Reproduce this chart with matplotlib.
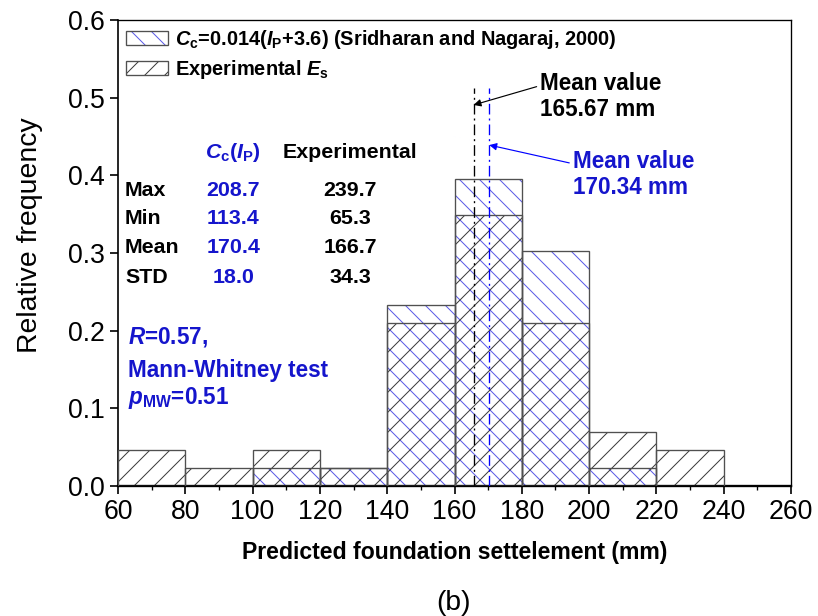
import matplotlib
matplotlib.use('Agg')
import matplotlib.pyplot as plt
import matplotlib.patches as mpatches
from matplotlib.ticker import MultipleLocator

# Data
bin_edges = [60, 80, 100, 120, 140, 160, 180, 200, 220, 240]
freq_cc = [0.0, 0.0, 0.0233, 0.0233, 0.2326, 0.3953, 0.3023, 0.0233, 0.0]
freq_exp = [0.0465, 0.0233, 0.0465, 0.0233, 0.2093, 0.3488, 0.2093, 0.0698, 0.0465]
mean_exp = 165.67
mean_cc = 170.34
mean_line_top = 0.512

stat_names = ["Max", "Min", "Mean", "STD"]
stat_cc = ["208.7", "113.4", "170.4", "18.0"]
stat_exp = ["239.7", "65.3", "166.7", "34.3"]

# Style
plt.rcParams['font.family'] = ['Liberation Sans', 'DejaVu Sans']
plt.rcParams['mathtext.fontset'] = 'custom'
plt.rcParams['mathtext.rm'] = 'Liberation Sans:bold'
plt.rcParams['mathtext.it'] = 'Liberation Sans:italic:bold'
plt.rcParams['mathtext.bf'] = 'Liberation Sans:bold'
plt.rcParams['hatch.linewidth'] = 0.6

blue_txt = '#1515cc'
blue_hatch = '#5a5ae6'
dark_hatch = '#3a3a3a'
edge = '#505050'

fig = plt.figure(figsize=(818 / 120, 616 / 120), dpi=120)
ax = fig.add_axes([118 / 818, 1 - 486 / 616, 673 / 818, 466 / 616])

lefts = bin_edges[:-1]
w = bin_edges[1] - bin_edges[0]

# hatches
ax.bar(lefts, freq_cc, width=w, align='edge', fill=False, hatch='\\\\',
       edgecolor=blue_hatch, linewidth=0, zorder=2)
ax.bar(lefts, freq_exp, width=w, align='edge', fill=False, hatch='//',
       edgecolor=dark_hatch, linewidth=0, zorder=2)
# outlines
cc_idx = [i for i, v in enumerate(freq_cc) if v > 0]
ax.bar([lefts[i] for i in cc_idx], [freq_cc[i] for i in cc_idx], width=w, align='edge',
       fill=False, edgecolor=edge, linewidth=0.8, zorder=3)
ax.bar(lefts, freq_exp, width=w, align='edge', fill=False, edgecolor=edge,
       linewidth=0.8, zorder=3)

# mean lines
ax.vlines(mean_exp, 0, mean_line_top, colors='black', linewidth=0.8,
          linestyles=(0, (8, 3, 1.5, 3)), zorder=4)
ax.vlines(mean_cc, 0, mean_line_top, colors='blue', linewidth=0.8,
          linestyles=(0, (8, 3, 1.5, 3)), zorder=4)

ax.annotate('Mean value\n165.67 mm', xy=(mean_exp, 0.4906), xytext=(185.4, 0.533),
            ha='left', va='top', fontsize=13.5, fontweight='bold', linespacing=1.15,
            arrowprops=dict(arrowstyle='-|>', color='black', lw=0.7,
                            mutation_scale=9, shrinkA=0, shrinkB=0,
                            relpos=(0, 0.72)))
ax.annotate('Mean value\n170.34 mm', xy=(mean_cc, 0.439), xytext=(195.1, 0.4326),
            ha='left', va='top', fontsize=13.5, fontweight='bold', color=blue_txt,
            linespacing=1.15,
            arrowprops=dict(arrowstyle='-|>', color='blue', lw=0.7,
                            mutation_scale=9, shrinkA=0, shrinkB=0,
                            relpos=(0, 0.72)))

# stats table
tfs = 12.8
ax.text(94.2, 0.430, r'$C_\mathrm{c}$($I_\mathrm{P}$)', color=blue_txt, ha='center',
        va='center', fontsize=tfs, fontweight='bold')
ax.text(129, 0.430, 'Experimental', ha='center', va='center', fontsize=tfs,
        fontweight='bold')
row_y = [0.381, 0.345, 0.3065, 0.269]
for name, c, e, y in zip(stat_names, stat_cc, stat_exp, row_y):
    ax.text(62.1, y, name, ha='left', va='center', fontsize=tfs, fontweight='bold')
    ax.text(94.2, y, c, ha='center', va='center', fontsize=tfs, fontweight='bold',
            color=blue_txt)
    ax.text(129, y, e, ha='center', va='center', fontsize=tfs, fontweight='bold')

ax.text(63.0, 0.192, r'$R$=0.57,', ha='left', va='center', fontsize=13.5,
        fontweight='bold', color=blue_txt)
ax.text(63.0, 0.149, 'Mann-Whitney test', ha='left', va='center', fontsize=13.5,
        fontweight='bold', color=blue_txt)
ax.text(63.0, 0.113, r'$p_\mathrm{MW}$=0.51', ha='left', va='center', fontsize=13.5,
        fontweight='bold', color=blue_txt)

# legend
h_cc = (mpatches.Patch(fill=False, hatch='\\\\', edgecolor=blue_hatch, linewidth=0),
        mpatches.Patch(fill=False, edgecolor=edge, linewidth=0.8))
h_exp = (mpatches.Patch(fill=False, hatch='//', edgecolor=dark_hatch, linewidth=0),
         mpatches.Patch(fill=False, edgecolor=edge, linewidth=0.8))
ax.legend([h_cc, h_exp],
          [r'$C_\mathrm{c}$=0.014($I_\mathrm{P}$+3.6) (Sridharan and Nagaraj, 2000)',
           r'Experimental $E_\mathrm{s}$'],
          loc='upper left', bbox_to_anchor=(0, 1), borderaxespad=0.2, frameon=False,
          prop={'size': 12, 'weight': 'bold'}, handlelength=2.1, handleheight=0.7,
          handletextpad=0.35, labelspacing=0.35, borderpad=0.2)

# axes
ax.set_xlim(60, 260)
ax.set_ylim(0, 0.6)
ax.xaxis.set_major_locator(MultipleLocator(20))
ax.xaxis.set_minor_locator(MultipleLocator(10))
ax.yaxis.set_major_locator(MultipleLocator(0.1))
ax.yaxis.set_major_formatter(matplotlib.ticker.FormatStrFormatter('%.1f'))
ax.tick_params(axis='both', which='major', direction='out', length=4.8, width=1,
               labelsize=16, pad=3)
ax.tick_params(axis='x', which='minor', direction='out', length=2.4, width=0.8)
for s in ax.spines.values():
    s.set_linewidth(0.8)
ax.spines['bottom'].set_linewidth(1.4)
ax.spines['left'].set_linewidth(1.0)

ax.set_xlabel('Predicted foundation settelement (mm)', fontsize=13.8, fontweight='bold')
ax.xaxis.set_label_coords(0.5, -0.118)
ax.set_ylabel('Relative frequency', fontsize=17)
ax.yaxis.set_label_coords(-0.112, 0.539)

fig.text(454 / 818, 1 - 603 / 616, '(b)', ha='center', va='center', fontsize=17)

fig.savefig('out.png', dpi=120)
